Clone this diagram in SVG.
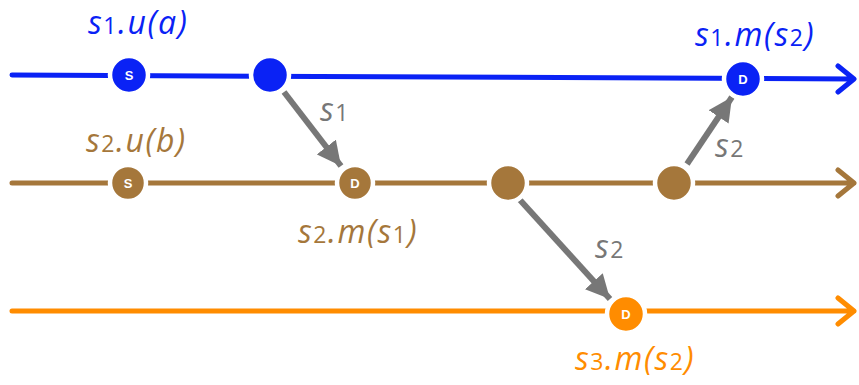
<svg xmlns="http://www.w3.org/2000/svg" width="859" height="385" viewBox="0 0 859 385">
<defs>
<style>
.lbl{font-family:"Open Sans","Noto Sans","DejaVu Sans",sans-serif;font-style:italic;font-size:32px;letter-spacing:1.5px}
.sub{font-size:23px;font-style:normal}
.ntxt{font-family:"Liberation Sans","DejaVu Sans",sans-serif;font-weight:bold;font-size:13px;fill:#fff;text-anchor:middle}
.ring{stroke:#fff;stroke-width:4.5}
.tl{fill:none;stroke-width:5;stroke-linecap:round;stroke-linejoin:round}
.msg{stroke:#777;stroke-width:6;fill:none}
.blue{fill:#0a22f5}.brown{fill:#a5773b}.orange{fill:#ff8c00}.gray{fill:#777}
</style>
<marker id="ah" markerUnits="userSpaceOnUse" markerWidth="26" markerHeight="24" refX="24" refY="12" orient="auto">
<path d="M0,0 L24,12 L0,24 Z" fill="#777"/>
</marker>
</defs>
<g id="timelines">
<path class="tl" stroke="#0a22f5" d="M12,75 L854,79 M838,66 L854,79 L838,92"/>
<path class="tl" stroke="#a5773b" d="M12,183 L854,183 M838,170 L854,183 L838,196"/>
<path class="tl" stroke="#ff8c00" d="M12,311 L854,311 M838,298 L854,311 L838,324"/>
</g>
<g id="connectors">
<path class="msg" d="M284,92 L341,166" marker-end="url(#ah)"/>
<path class="msg" d="M520,200 L610,299" marker-end="url(#ah)"/>
<path class="msg" d="M687,164 L732,97" marker-end="url(#ah)"/>
</g>
<g id="n1"><circle class="blue ring" cx="129" cy="75" r="19"/><text class="ntxt" x="129" y="79.5">S</text></g>
<g id="n2"><circle class="blue ring" cx="270" cy="75" r="19"/></g>
<g id="n3"><circle class="blue ring" cx="743" cy="79" r="19"/><text class="ntxt" x="743" y="83.5">D</text></g>
<g id="n4"><circle class="brown ring" cx="128" cy="183" r="18"/><text class="ntxt" x="128" y="187.5">S</text></g>
<g id="n5"><circle class="brown ring" cx="355" cy="183" r="18"/><text class="ntxt" x="355" y="187.5">D</text></g>
<g id="n6"><circle class="brown ring" cx="508" cy="183" r="19"/></g>
<g id="n7"><circle class="brown ring" cx="674" cy="183" r="19"/></g>
<g id="n8"><circle class="orange ring" cx="626" cy="314" r="19"/><text class="ntxt" x="626" y="318.5">D</text></g>
<g id="labels">
<text class="lbl blue" x="88" y="34">s<tspan class="sub">1</tspan>.u(a)</text>
<text class="lbl blue" x="695" y="46">s<tspan class="sub">1</tspan>.m(s<tspan class="sub">2</tspan>)</text>
<text class="lbl brown" x="86" y="152">s<tspan class="sub">2</tspan>.u(b)</text>
<text class="lbl brown" x="298" y="243">s<tspan class="sub">2</tspan>.m(s<tspan class="sub">1</tspan>)</text>
<text class="lbl orange" x="575" y="370">s<tspan class="sub">3</tspan>.m(s<tspan class="sub">2</tspan>)</text>
<text class="lbl gray" x="320" y="121">s<tspan class="sub">1</tspan></text>
<text class="lbl gray" x="595" y="258">s<tspan class="sub">2</tspan></text>
<text class="lbl gray" x="715" y="157">s<tspan class="sub">2</tspan></text>
</g>
</svg>
